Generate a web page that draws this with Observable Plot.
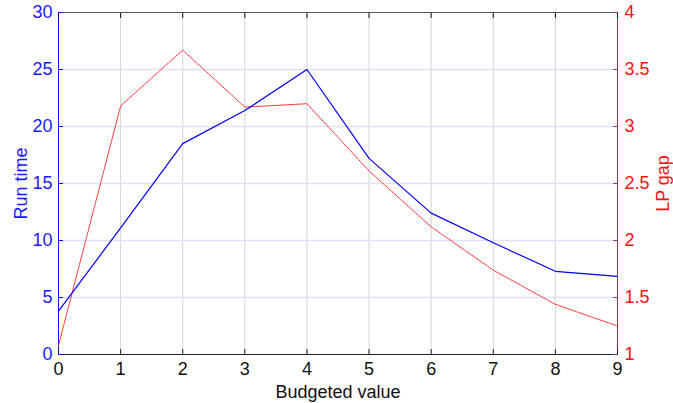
<!DOCTYPE html>
<html>
<head>
<meta charset="utf-8">
<script src="https://cdn.jsdelivr.net/npm/d3@7"></script>
<script src="https://cdn.jsdelivr.net/npm/@observablehq/plot@0.6"></script>
<style>
  html, body { margin: 0; padding: 0; background: #fff; }
</style>
</head>
<body>
<div id="chart"></div>
<script>
const budget = [0, 1, 2, 3, 4, 5, 6, 7, 8, 9];
const runTime = [3.8, 11.1, 18.5, 21.4, 25.0, 17.2, 12.4, 9.8, 7.3, 6.85];
const lpGap = [1.08, 3.18, 3.67, 3.17, 3.20, 2.61, 2.12, 1.74, 1.44, 1.25];
const xTicks = [0, 1, 2, 3, 4, 5, 6, 7, 8, 9];
const leftTicks = [0, 5, 10, 15, 20, 25, 30];
const rightTicks = [1, 1.5, 2, 2.5, 3, 3.5, 4];

// right axis maps [1,4] onto left [0,30]
const toLeft = v => (v - 1) * 10;
const fromLeft = d => 1 + d / 10;

const runData = budget.map((b, i) => ({b, v: runTime[i]}));
const gapData = budget.map((b, i) => ({b, v: toLeft(lpGap[i])}));

const font = "'Liberation Sans', Arial, sans-serif";

const chart = Plot.plot({
  width: 673,
  height: 403,
  marginLeft: 58,
  marginRight: 56,
  marginTop: 12,
  marginBottom: 49,
  style: {fontFamily: font, fontSize: "18px", background: "#fff"},
  x: {domain: [0, 9]},
  y: {domain: [0, 30]},
  marks: [
    Plot.gridX(xTicks.slice(1, -1), {stroke: "#d4d4d4", strokeOpacity: 1}),
    Plot.gridY(leftTicks.slice(1, -1), {stroke: "#e0e0fa", strokeOpacity: 1, strokeWidth: 1.5}),
    // frame lines
    Plot.ruleY([30], {stroke: "#555"}),
    Plot.ruleY([0], {stroke: "#222"}),
    Plot.ruleX([0], {stroke: "#1010ff"}),
    Plot.ruleX([9], {stroke: "#dc143c"}),
    // bottom axis: inward ticks and labels
    Plot.axisX(xTicks, {anchor: "bottom", tickSize: 5, dy: -5, fill: "none", label: null, stroke: "#222"}),
    Plot.axisX(xTicks, {anchor: "bottom", tickSize: 0, tickPadding: 8, fill: "#111", label: "Budgeted value", labelAnchor: "center", labelArrow: "none", labelOffset: 43}),
    // top ticks
    Plot.axisX(xTicks, {anchor: "top", tickSize: 5, dy: 5, fill: "none", label: null, stroke: "#111"}),
    // left axis
    Plot.axisY(leftTicks, {anchor: "left", tickSize: 5, dx: 5, fill: "none", label: null, stroke: "#1010ff"}),
    Plot.axisY(leftTicks, {anchor: "left", tickSize: 0, tickPadding: 6, fill: "#1a1aff", label: "Run time", labelAnchor: "center", labelArrow: "none", labelOffset: 44}),
    // right axis
    Plot.axisY(rightTicks.map(toLeft), {anchor: "right", tickSize: 5, dx: -5, fill: "none", label: null, stroke: "#b0306a"}),
    Plot.axisY(rightTicks.map(toLeft), {anchor: "right", tickSize: 0, tickPadding: 7, fill: "#ff1010", tickFormat: d => d3.format("~g")(fromLeft(d)), label: "LP gap", labelAnchor: "center", labelArrow: "none", labelOffset: 51}),
    // series
    Plot.line(gapData, {x: "b", y: "v", stroke: "#ff2020", strokeWidth: 1, strokeDasharray: "1,1"}),
    Plot.line(runData, {x: "b", y: "v", stroke: "#0000ff", strokeWidth: 1.2})
  ]
});
document.getElementById("chart").appendChild(chart);
</script>
</body>
</html>
